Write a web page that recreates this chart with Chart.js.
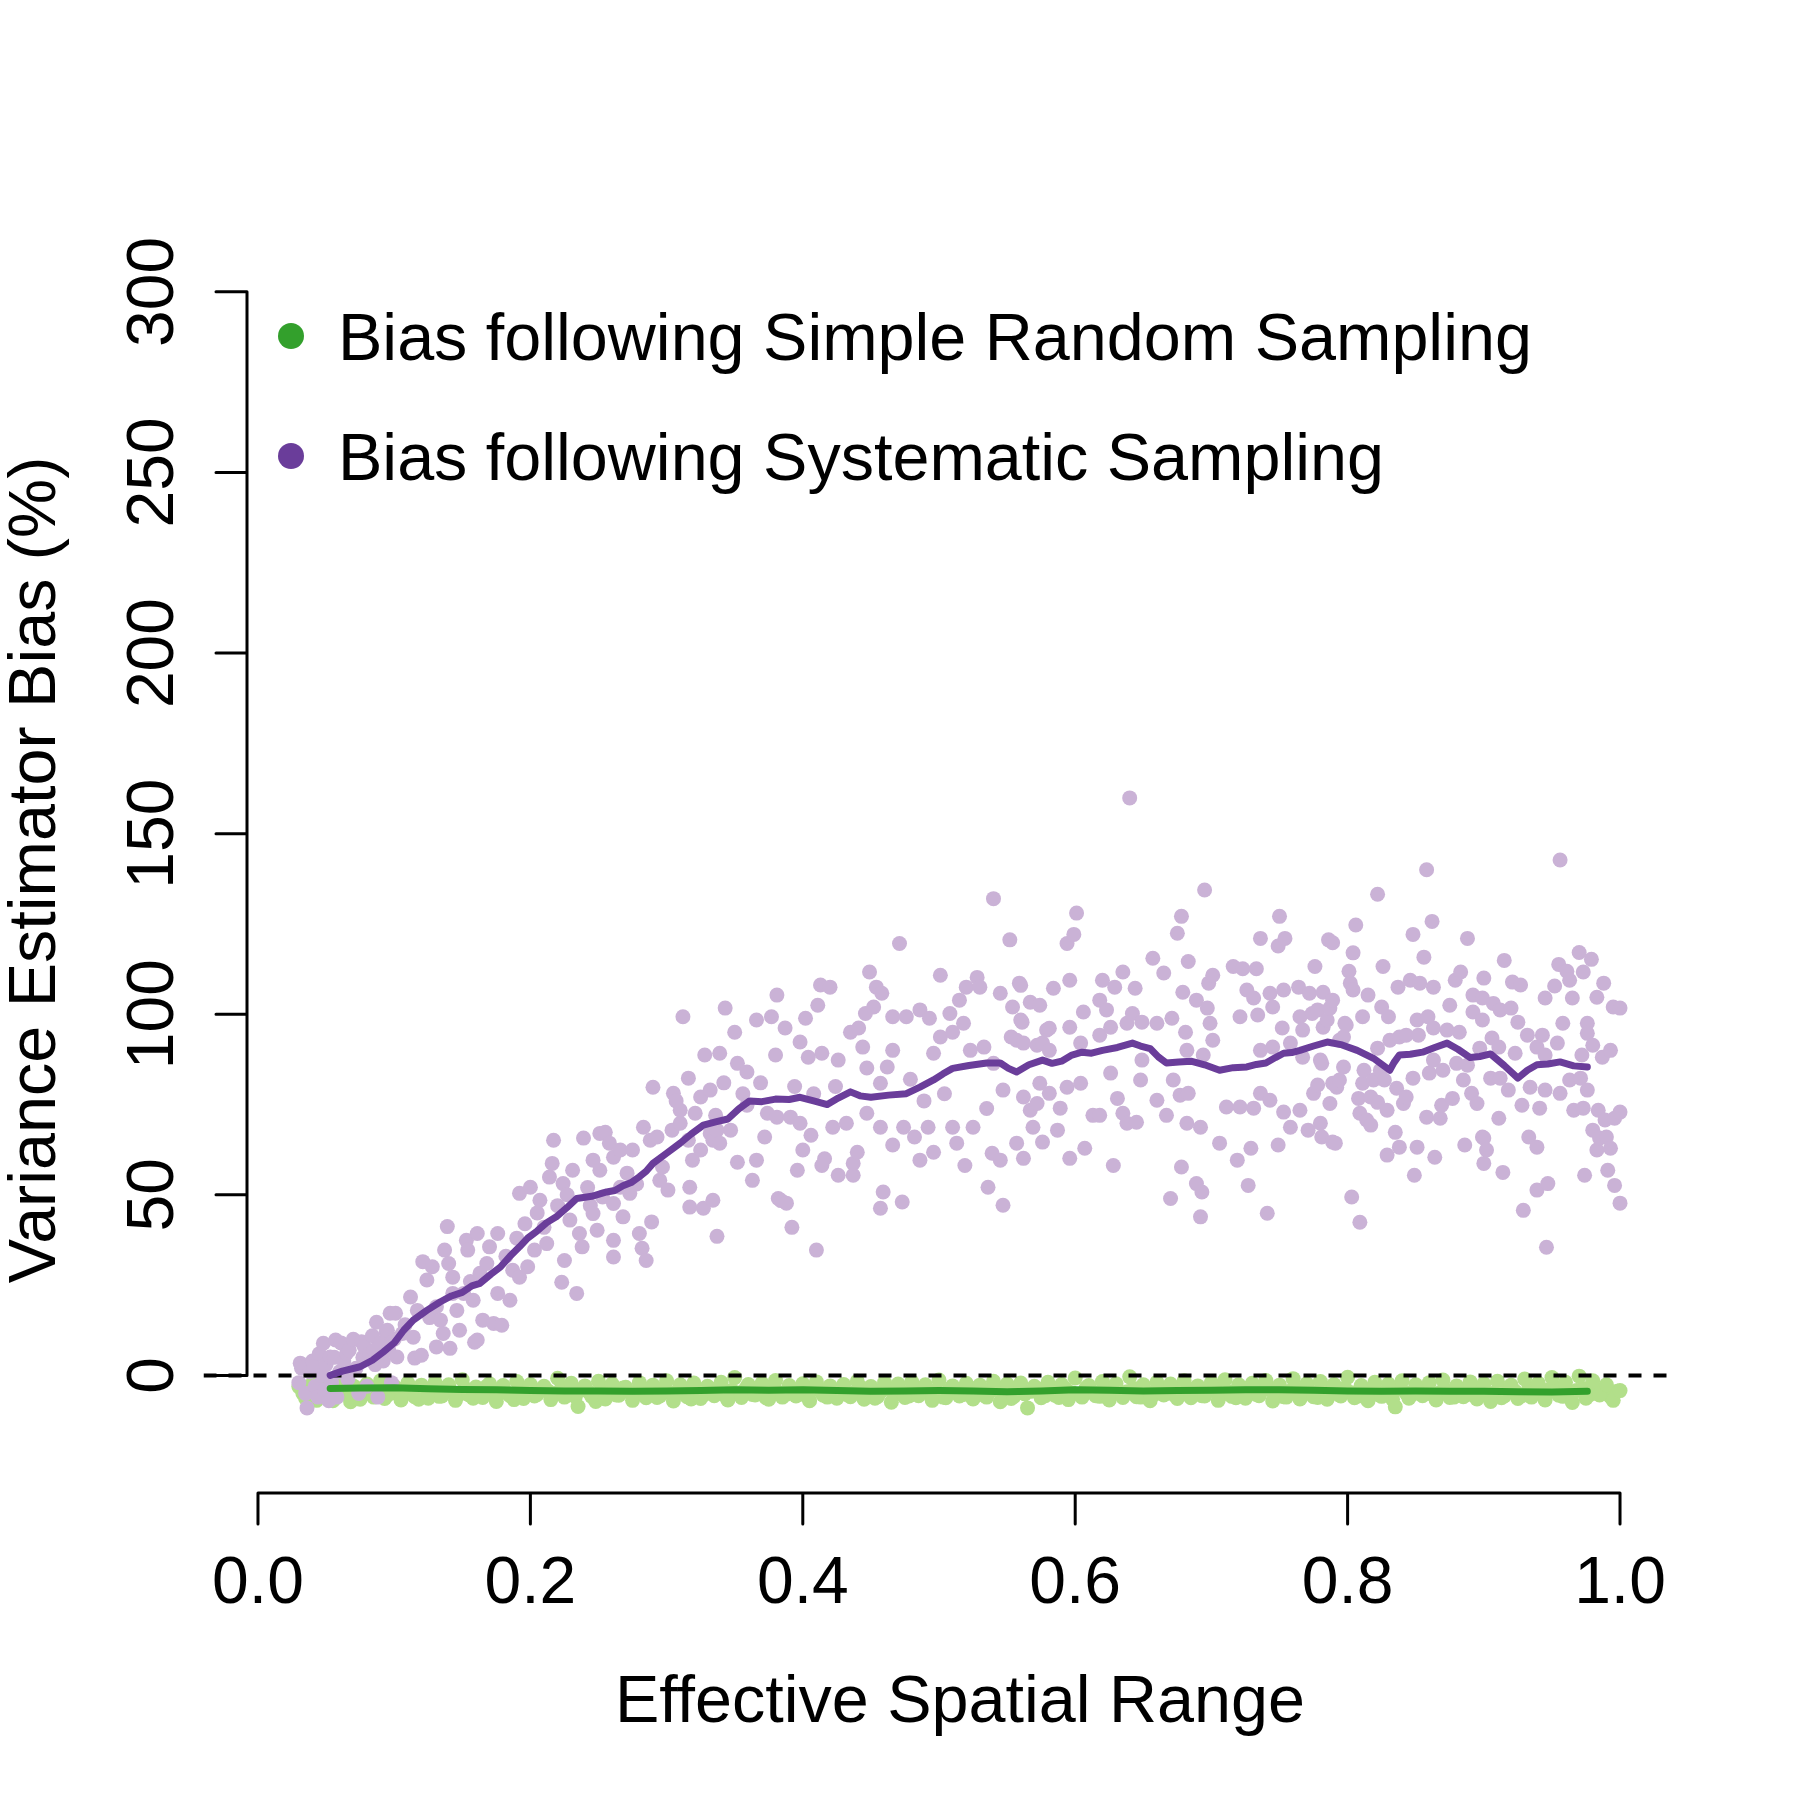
<!DOCTYPE html>
<html>
<head>
<meta charset="utf-8">
<script src="https://cdn.jsdelivr.net/npm/chart.js@4.4.0/dist/chart.umd.min.js"></script>
<style>
  html, body { margin: 0; background: #fff; }
</style>
</head>
<body>
<canvas id="chart" width="1800" height="1800"></canvas>
<script>
// --- data ---
const xTicks = [0, 0.2, 0.4, 0.6, 0.8, 1.0];
const xTickLabels = ["0.0", "0.2", "0.4", "0.6", "0.8", "1.0"];
const yTicks = [0, 50, 100, 150, 200, 250, 300];
const yTickLabels = ["0", "50", "100", "150", "200", "250", "300"];
const xLimits = [-0.04, 1.04];
const yLimits = [-44.6, 313.25];
const seriesNames = ["Bias following Simple Random Sampling", "Bias following Systematic Sampling"];

// systematic sampling: individual estimates (range, bias %)
const sysPoints = [
  [0.030,-2],[0.031,3.4],[0.032,2],[0.035,-5],[0.036,-9],[0.038,1],[0.040,4],[0.041,2.3],[0.042,-3],[0.044,-6],
  [0.045,6],[0.047,0],[0.048,8.9],[0.049,-4],[0.050,3],[0.052,-7],[0.053,5.1],[0.054,-2],[0.056,5],[0.057,9.8],
  [0.058,-6],[0.060,1],[0.061,9],[0.063,4],[0.065,6.1],[0.066,-1],[0.067,7],[0.070,10],[0.072,2],[0.074,-5],
  [0.076,9.3],[0.077,5],[0.078,8],[0.080,-3],[0.082,6],[0.084,11],[0.085,7],[0.086,3],[0.087,14.7],[0.088,-6],
  [0.090,9],[0.092,4],[0.094,12],[0.095,12.5],[0.096,7],[0.097,17.2],[0.098,-2],[0.100,10],[0.101,17.2],[0.102,5.1],
  [0.106,11.6],[0.108,14],[0.112,21.7],[0.114,10.6],[0.115,4.8],[0.117,18],[0.120,5.6],[0.121,31.5],[0.124,26.4],[0.126,16],
  [0.128,30.1],[0.131,19],[0.131,7.9],[0.134,15.3],[0.136,11.6],[0.137,34.7],[0.139,41.2],[0.140,31],[0.141,7.5],[0.143,27.2],
  [0.143,22.7],[0.146,18],[0.148,12.5],[0.151,22.7],[0.153,37.4],[0.154,34.7],[0.156,26],[0.158,20.8],[0.159,9.2],[0.161,9.8],
  [0.161,39.3],[0.163,28.3],[0.165,15.3],[0.168,31],[0.170,35.6],[0.173,14.4],[0.176,39.3],[0.176,22.7],[0.179,13.9],[0.182,33],
  [0.185,20.8],[0.187,29.1],[0.190,38],[0.192,27.2],[0.192,50.4],[0.196,42],[0.198,30.1],[0.200,52.1],[0.203,34.7],[0.205,45],
  [0.207,48.5],[0.210,41],[0.212,36.5],[0.214,54.9],[0.216,58.7],[0.217,65.1],[0.220,47],[0.223,25.8],[0.224,53.1],[0.225,31.8],
  [0.227,50],[0.229,43],[0.231,56.8],[0.234,22.7],[0.236,39.3],[0.238,35.6],[0.239,65.7],[0.242,52],[0.244,47],[0.246,59.6],
  [0.246,44.8],[0.249,40.2],[0.251,56.8],[0.251,67],[0.253,49.4],[0.255,67.3],[0.258,64.3],[0.261,47.6],[0.261,37.4],[0.261,32.8],
  [0.261,60.4],[0.266,52.1],[0.266,62.4],[0.268,43.9],[0.271,56],[0.273,50.4],[0.275,62.4],[0.278,53],[0.280,39.3],[0.282,35.2],
  [0.283,68.7],[0.285,31.8],[0.288,65.1],[0.289,42.5],[0.290,79.8],[0.293,66],[0.295,54],[0.297,57.7],[0.301,51.3],[0.304,67.9],
  [0.305,78.1],[0.307,76],[0.310,73.4],[0.310,69.8],[0.312,99.3],[0.316,82.3],[0.316,65.1],[0.317,46.6],[0.317,52.1],[0.319,59.6],
  [0.321,72.6],[0.325,62.4],[0.325,77.1],[0.327,46.3],[0.328,88.7],[0.332,79],[0.332,67],[0.334,48.5],[0.334,65.1],[0.336,72],
  [0.337,67.9],[0.337,38.5],[0.339,89.2],[0.339,64.3],[0.342,81],[0.343,101.7],[0.347,67.9],[0.350,95],[0.352,86.4],[0.352,59],
  [0.356,78],[0.359,84],[0.359,74.8],[0.363,54],[0.366,98.4],[0.366,59.6],[0.369,81],[0.372,66],[0.374,72.6],[0.377,99.3],
  [0.380,88.7],[0.381,105.3],[0.381,71.5],[0.382,49],[0.384,48.4],[0.387,96.2],[0.388,47.7],[0.391,71.5],[0.392,41],[0.394,80],
  [0.396,56.8],[0.398,92.3],[0.398,69.8],[0.400,62.4],[0.402,98.9],[0.404,88.1],[0.406,66.5],[0.408,78],[0.410,34.7],[0.411,102.5],
  [0.413,108.1],[0.414,89.2],[0.414,58.1],[0.416,60],[0.420,107.5],[0.422,68.7],[0.424,80],[0.426,87.3],[0.426,55.4],[0.432,69.8],
  [0.435,95],[0.437,55.4],[0.437,58.7],[0.440,61.8],[0.441,96.2],[0.444,90.9],[0.446,100.2],[0.447,85.1],[0.447,72.6],[0.449,111.7],
  [0.452,102],[0.454,107.5],[0.457,80.9],[0.457,68.7],[0.457,46.3],[0.458,105.8],[0.459,50.8],[0.462,85.4],[0.466,99.3],[0.466,90],
  [0.466,63.8],[0.471,119.6],[0.473,48],[0.474,68.7],[0.476,99.3],[0.479,82],[0.482,66],[0.486,101.2],[0.486,59.6],[0.489,76],
  [0.492,68.7],[0.493,98.9],[0.496,89.2],[0.496,61.8],[0.501,110.8],[0.501,93.7],[0.504,78],[0.508,100.2],[0.510,95],[0.510,68.7],
  [0.513,64.3],[0.515,103.9],[0.518,97.5],[0.519,58.1],[0.520,107.5],[0.523,90],[0.525,68.7],[0.528,110.2],[0.530,107.5],[0.533,90.9],
  [0.535,73.9],[0.536,52.1],[0.539,61.5],[0.540,132],[0.540,86.4],[0.545,105.8],[0.545,59.6],[0.547,47.1],[0.547,79],[0.552,120.6],
  [0.553,93.7],[0.554,102],[0.557,92.8],[0.557,64.3],[0.559,108.6],[0.560,108],[0.560,98.4],[0.561,97.8],[0.562,92],[0.562,60.1],
  [0.562,77.1],[0.567,103.3],[0.567,73.4],[0.569,68.7],[0.572,91.4],[0.572,75.3],[0.574,102.5],[0.574,80.9],[0.576,92],[0.576,64.6],
  [0.579,95.6],[0.581,96.1],[0.581,90],[0.581,78.1],[0.584,107.2],[0.587,67.9],[0.589,74],[0.594,119.6],[0.594,79.8],[0.596,109.4],
  [0.596,96.4],[0.596,60.1],[0.599,122.1],[0.601,128],[0.604,92],[0.604,80.9],[0.606,100.6],[0.607,62.9],[0.613,72],[0.618,103.9],
  [0.618,94.2],[0.618,72],[0.620,109.4],[0.623,101.2],[0.626,96.4],[0.626,83.7],[0.628,58.1],[0.629,107.5],[0.631,76.7],[0.635,111.7],
  [0.635,72.6],[0.638,97.5],[0.638,69.8],[0.640,159.9],[0.642,100.2],[0.644,107.2],[0.645,70.1],[0.648,81.8],[0.649,97.8],[0.649,87.3],
  [0.657,115.5],[0.660,97.5],[0.660,76.2],[0.665,111.4],[0.667,72],[0.670,49],[0.671,98.9],[0.672,81.8],[0.675,122.4],[0.677,77.6],
  [0.678,127.1],[0.678,57.7],[0.679,106.1],[0.681,95],[0.682,90],[0.682,69.8],[0.683,114.6],[0.683,78.1],[0.689,103.9],[0.689,53.1],
  [0.692,68.7],[0.692,43.9],[0.693,50.8],[0.694,88.7],[0.695,134.4],[0.697,101.7],[0.698,108.6],[0.699,97.5],[0.701,110.8],[0.701,92.8],
  [0.706,64.3],[0.711,74.3],[0.716,113.2],[0.719,59.6],[0.721,99.3],[0.721,74.3],[0.723,112.6],[0.726,106.7],[0.727,52.6],[0.729,62.9],
  [0.731,104.5],[0.731,74],[0.733,112.6],[0.734,99.8],[0.736,121],[0.736,90],[0.736,78.1],[0.741,44.9],[0.743,105.8],[0.743,76.2],
  [0.745,102],[0.745,90.9],[0.749,118.9],[0.749,63.8],[0.750,127.1],[0.752,96.2],[0.753,106.7],[0.753,72.9],[0.754,121],[0.758,92],
  [0.758,68.7],[0.764,107.5],[0.765,99.3],[0.765,73.4],[0.767,95.6],[0.767,88.1],[0.771,67.9],[0.772,105.8],[0.774,100.2],[0.775,78.1],
  [0.776,113.2],[0.778,101.2],[0.778,80.4],[0.780,87.3],[0.780,69.8],[0.781,86.4],[0.781,66],[0.782,106.1],[0.782,96.4],[0.785,98.4],
  [0.786,120.6],[0.787,101.7],[0.787,75.3],[0.789,119.8],[0.789,103.9],[0.789,80.9],[0.789,64.6],[0.791,64.3],[0.792,79.8],[0.794,92.8],
  [0.794,81.8],[0.797,93.7],[0.797,85.4],[0.798,97.5],[0.799,97],[0.801,111.9],[0.802,108.6],[0.803,49.4],[0.804,117],[0.804,106.7],
  [0.806,124.7],[0.808,76.7],[0.809,72.6],[0.809,42.4],[0.811,99.3],[0.811,80.9],[0.812,84.5],[0.814,70.7],[0.815,105.3],[0.817,77.1],
  [0.817,69.3],[0.819,81.8],[0.822,133.2],[0.822,90.6],[0.822,75.6],[0.824,84.5],[0.825,102],[0.826,113.2],[0.827,81.8],[0.829,73.4],
  [0.829,61],[0.830,99.3],[0.831,92.8],[0.835,67.3],[0.836,79.5],[0.837,107.5],[0.838,93.7],[0.838,63.2],[0.841,75.3],[0.843,94.2],
  [0.843,77.1],[0.846,109.4],[0.848,122.1],[0.848,82.3],[0.849,55.4],[0.851,98.4],[0.851,63.2],[0.852,94.2],[0.853,108.6],[0.856,115.8],
  [0.858,140],[0.858,71.5],[0.859,99.3],[0.860,83.7],[0.862,125.7],[0.863,107.5],[0.863,96.2],[0.863,87.3],[0.864,60.4],[0.868,71.2],
  [0.869,74.8],[0.870,84.5],[0.873,95.6],[0.875,102.5],[0.877,76.7],[0.879,109.4],[0.880,86.4],[0.882,95],[0.883,111.7],[0.885,81.8],
  [0.886,63.8],[0.888,121],[0.888,85.9],[0.891,78.1],[0.892,105.3],[0.892,100.6],[0.895,75.3],[0.897,90.6],[0.899,104.5],[0.899,98.4],
  [0.899,66],[0.900,110],[0.900,65.7],[0.900,58.7],[0.902,62.4],[0.905,82.3],[0.906,93.4],[0.907,103],[0.911,90.9],[0.911,71.2],
  [0.912,101.2],[0.912,82.3],[0.914,56.2],[0.915,114.9],[0.918,79],[0.920,101.7],[0.921,108.9],[0.923,89.2],[0.925,97.8],[0.927,108.1],
  [0.928,74.8],[0.929,45.7],[0.932,94.2],[0.933,66],[0.934,79.8],[0.939,90.9],[0.939,63.2],[0.939,51.3],[0.941,74],[0.943,94.2],
  [0.945,104.5],[0.945,88.7],[0.945,79],[0.946,35.5],[0.947,53.1],[0.952,107.8],[0.954,92],[0.955,113.8],[0.956,142.7],[0.956,78.1],
  [0.958,97.5],[0.961,111.9],[0.963,109.4],[0.963,81.8],[0.965,104.5],[0.966,73.4],[0.970,117.1],[0.971,82.3],[0.972,88.7],[0.973,111.7],
  [0.973,74],[0.974,55.4],[0.976,97.5],[0.976,94.7],[0.976,79],[0.979,115.2],[0.980,91.4],[0.980,67.9],[0.983,104.7],[0.983,62.4],
  [0.984,73.4],[0.985,65.7],[0.987,88.1],[0.988,108.6],[0.989,70.7],[0.990,66],[0.991,56.8],[0.993,90],[0.993,62.9],[0.995,102],
  [0.996,71.2],[0.996,52.6],[1.000,101.7],[1.000,72.9],[1.000,47.7]
];

// systematic sampling: running mean
const sysTrend = [
  [0.053,0],[0.062,1.2],[0.075,2.4],[0.084,4.2],[0.092,6.5],[0.100,9],[0.107,12.5],[0.114,15.3],[0.124,18],[0.134,20.4],
  [0.142,22],[0.150,23],[0.157,24.8],[0.163,25.5],[0.171,28],[0.178,30],[0.185,33],[0.192,35.6],[0.198,38],[0.205,40],
  [0.212,42.3],[0.219,43.9],[0.227,46.5],[0.234,49],[0.245,49.6],[0.256,50.8],[0.262,51.2],[0.268,52.5],[0.274,53.4],[0.280,55],
  [0.285,56.5],[0.290,58.7],[0.300,61.5],[0.310,64.3],[0.318,66.8],[0.327,69.3],[0.336,70.2],[0.345,71],[0.353,73.8],[0.361,76],
  [0.370,75.8],[0.380,76.5],[0.390,76.4],[0.398,77],[0.408,76],[0.418,75],[0.426,76.8],[0.435,78.5],[0.442,77.4],[0.450,77],
  [0.463,77.6],[0.476,78],[0.486,79.8],[0.496,81.8],[0.503,83.5],[0.510,85],[0.522,85.8],[0.535,86.5],[0.545,86.5],[0.551,85],
  [0.557,84],[0.566,86],[0.576,87.3],[0.583,86.4],[0.590,87],[0.597,88.6],[0.605,89.5],[0.612,89.2],[0.620,90],[0.631,90.8],
  [0.642,92],[0.648,91.2],[0.655,90.5],[0.661,88.2],[0.667,86.5],[0.676,86.8],[0.685,87],[0.695,86],[0.706,84.5],[0.716,85.2],
  [0.726,85.4],[0.733,86.1],[0.740,86.5],[0.747,88],[0.753,89.2],[0.759,89.4],[0.765,90],[0.775,91.2],[0.785,92.3],[0.796,91.5],
  [0.807,90],[0.819,87.8],[0.831,84.5],[0.834,86.6],[0.838,88.7],[0.846,88.9],[0.855,89.5],[0.864,90.8],[0.873,92],[0.881,90.3],
  [0.890,88],[0.897,88.3],[0.905,89],[0.915,85.8],[0.925,82.3],[0.932,84.5],[0.939,86],[0.947,86.2],[0.956,86.8],[0.966,85.7],
  [0.976,85.4]
];

// simple random sampling: individual estimates (two interleaved passes along the range)
const srsRange = [
  0.030,0.035,0.040,0.045,0.050,0.055,0.060,0.065,0.070,0.075,
  0.080,0.085,0.090,0.095,0.100,0.105,0.110,0.115,0.120,0.125,
  0.130,0.135,0.140,0.145,0.150,0.155,0.160,0.165,0.170,0.175,
  0.180,0.185,0.190,0.195,0.200,0.205,0.210,0.215,0.220,0.225,
  0.230,0.235,0.240,0.245,0.250,0.255,0.260,0.265,0.270,0.275,
  0.280,0.285,0.290,0.295,0.300,0.305,0.310,0.315,0.320,0.325,
  0.330,0.335,0.340,0.345,0.350,0.355,0.360,0.365,0.370,0.375,
  0.380,0.385,0.390,0.395,0.400,0.405,0.410,0.415,0.420,0.425,
  0.430,0.435,0.440,0.445,0.450,0.455,0.460,0.465,0.470,0.475,
  0.480,0.485,0.490,0.495,0.500,0.505,0.510,0.515,0.520,0.525,
  0.530,0.535,0.540,0.545,0.550,0.555,0.560,0.565,0.570,0.575,
  0.580,0.585,0.590,0.595,0.600,0.605,0.610,0.615,0.620,0.625,
  0.630,0.635,0.640,0.645,0.650,0.655,0.660,0.665,0.670,0.675,
  0.680,0.685,0.690,0.695,0.700,0.705,0.710,0.715,0.720,0.725,
  0.730,0.735,0.740,0.745,0.750,0.755,0.760,0.765,0.770,0.775,
  0.780,0.785,0.790,0.795,0.800,0.805,0.810,0.815,0.820,0.825,
  0.830,0.835,0.840,0.845,0.850,0.855,0.860,0.865,0.870,0.875,
  0.880,0.885,0.890,0.895,0.900,0.905,0.910,0.915,0.920,0.925,
  0.930,0.935,0.940,0.945,0.950,0.955,0.960,0.965,0.970,0.975,
  0.980,0.985,0.990,0.995,1.000
];
const srsBias = [
  -3.1,-6.4,-2.2,-5.8,-3.5,-7.0,-1.8,-5.2,-2.9,-6.6,
  -2.4,-6.0,-1.5,-5.5,-3.0,-6.8,-2.1,-5.9,-2.7,-6.3,
  -1.9,-5.7,-2.6,-6.9,-1.2,-5.4,-3.2,-6.1,-2.3,-7.2,
  -2.8,-5.6,-1.7,-6.4,-2.5,-5.3,-3.0,-6.7,-0.8,-6.0,
  -2.2,-8.6,-2.9,-5.8,-1.6,-6.5,-2.4,-5.5,-3.3,-6.9,
  -2.0,-6.2,-2.7,-5.7,-1.5,-7.1,-2.6,-5.9,-2.1,-6.4,
  -3.0,-5.6,-1.9,-6.8,-0.6,-6.1,-2.5,-5.4,-2.2,-6.6,
  -1.4,-6.0,-2.8,-5.7,-2.3,-7.0,-1.8,-5.5,-2.9,-6.3,
  -2.5,-5.9,-1.6,-6.6,-3.1,-5.8,-2.0,-7.4,-2.4,-6.1,
  -1.8,-5.6,-2.6,-6.9,-1.3,-6.2,-2.9,-5.7,-2.2,-6.5,
  -2.7,-6.0,-1.6,-7.3,-2.4,-5.8,-2.1,-9.0,-3.0,-6.2,
  -1.9,-5.5,-2.5,-6.7,-0.7,-6.0,-2.8,-5.6,-1.7,-6.8,
  -2.3,-6.1,-0.4,-5.9,-2.6,-7.0,-1.9,-5.4,-2.4,-6.4,
  -1.5,-6.2,-2.9,-5.7,-2.0,-6.9,-1.2,-5.8,-2.6,-6.3,
  -2.2,-5.6,-1.4,-7.1,-2.7,-6.0,-0.9,-6.5,-2.3,-5.9,
  -1.7,-6.6,-2.5,-5.7,-0.5,-6.2,-2.8,-7.0,-1.9,-5.8,
  -2.4,-8.7,-1.5,-6.3,-2.6,-5.6,-2.0,-6.8,-1.3,-6.1,
  -2.9,-5.9,-1.8,-6.5,-2.3,-7.2,-1.6,-5.7,-2.7,-6.4,
  -1.0,-6.0,-2.2,-6.8,-0.6,-5.5,-1.9,-7.5,-0.2,-6.3,
  -1.5,-5.4,-2.6,-6.9,-4.2
];
const srsRange2 = [
  0.033,0.038,0.043,0.048,0.053,0.058,0.063,0.068,0.073,0.078,
  0.083,0.088,0.093,0.098,0.103,0.108,0.113,0.118,0.123,0.128,
  0.133,0.138,0.143,0.148,0.153,0.158,0.163,0.168,0.173,0.178,
  0.183,0.188,0.193,0.198,0.203,0.208,0.213,0.218,0.223,0.228,
  0.233,0.238,0.243,0.248,0.253,0.258,0.263,0.268,0.273,0.278,
  0.283,0.288,0.293,0.298,0.303,0.308,0.313,0.318,0.323,0.328,
  0.333,0.338,0.343,0.348,0.353,0.358,0.363,0.368,0.373,0.378,
  0.383,0.388,0.393,0.398,0.403,0.408,0.413,0.418,0.423,0.428,
  0.433,0.438,0.443,0.448,0.453,0.458,0.463,0.468,0.473,0.478,
  0.483,0.488,0.493,0.498,0.503,0.508,0.513,0.518,0.523,0.528,
  0.533,0.538,0.543,0.548,0.553,0.558,0.563,0.568,0.573,0.578,
  0.583,0.588,0.593,0.598,0.603,0.608,0.613,0.618,0.623,0.628,
  0.633,0.638,0.643,0.648,0.653,0.658,0.663,0.668,0.673,0.678,
  0.683,0.688,0.693,0.698,0.703,0.708,0.713,0.718,0.723,0.728,
  0.733,0.738,0.743,0.748,0.753,0.758,0.763,0.768,0.773,0.778,
  0.783,0.788,0.793,0.798,0.803,0.808,0.813,0.818,0.823,0.828,
  0.833,0.838,0.843,0.848,0.853,0.858,0.863,0.868,0.873,0.878,
  0.883,0.888,0.893,0.898,0.903,0.908,0.913,0.918,0.923,0.928,
  0.933,0.938,0.943,0.948,0.953,0.958,0.963,0.968,0.973,0.978,
  0.983,0.988,0.993,0.998
];
const srsBias2 = [
  -5.0,-3.8,-6.9,-4.4,-5.6,-2.9,-4.8,-7.3,-3.6,-5.1,
  -4.6,-3.2,-6.4,-4.2,-5.3,-3.5,-4.9,-6.6,-3.9,-4.5,
  -5.8,-3.4,-4.7,-5.2,-3.8,-6.3,-4.4,-3.0,-5.5,-4.1,
  -4.9,-6.7,-3.6,-4.6,-5.7,-3.9,-4.3,-5.0,-3.3,-4.8,
  -5.9,-4.0,-4.6,-7.2,-3.7,-4.9,-5.4,-3.5,-4.7,-5.1,
  -3.9,-4.8,-6.1,-3.6,-5.0,-4.3,-4.7,-6.5,-3.8,-5.2,
  -4.5,-3.4,-5.6,-4.1,-4.9,-3.7,-5.3,-4.4,-6.2,-3.5,
  -4.8,-5.2,-3.9,-4.6,-5.8,-3.6,-4.4,-6.0,-4.1,-3.8,
  -5.4,-4.7,-3.5,-4.9,-6.3,-4.2,-3.7,-5.1,-4.6,-5.7,
  -3.6,-4.5,-5.0,-4.1,-6.0,-3.8,-4.7,-5.3,-3.5,-4.9,
  -5.5,-4.2,-3.9,-4.8,-6.4,-3.6,-5.1,-4.4,-3.8,-5.6,
  -4.3,-6.1,-3.7,-4.9,-5.2,-3.4,-4.6,-5.8,-4.1,-3.9,
  -5.0,-4.5,-3.6,-6.0,-4.7,-5.3,-3.8,-4.4,-5.5,-4.0,
  -3.7,-4.9,-5.6,-4.2,-3.9,-5.1,-4.6,-6.2,-3.5,-4.8,
  -5.3,-4.0,-3.6,-4.7,-5.9,-4.3,-3.8,-5.0,-4.5,-6.1,
  -3.9,-4.6,-5.2,-3.5,-4.8,-5.7,-4.1,-3.8,-5.4,-4.4,
  -6.6,-3.7,-4.9,-5.1,-4.0,-3.6,-5.5,-4.7,-4.2,-6.0,
  -3.8,-5.3,-4.5,-3.6,-5.0,-4.8,-6.2,-3.9,-4.4,-5.6,
  -3.5,-4.7,-5.1,-4.0,-3.3,-5.8,-4.6,-4.2,-3.6,-5.3,
  -4.9,-3.8,-5.9,-4.4
];

// simple random sampling: running mean
const srsTrend = [
  [0.053,-3.6],[0.075,-3.5],[0.100,-3.4],[0.125,-3.7],[0.150,-3.9],[0.175,-4.0],[0.200,-4.2],[0.225,-4.3],
  [0.250,-4.3],[0.275,-4.4],[0.300,-4.3],[0.325,-4.2],[0.350,-4.0],[0.375,-4.1],[0.400,-4.0],[0.425,-4.2],
  [0.450,-4.4],[0.475,-4.3],[0.500,-4.2],[0.525,-4.3],[0.550,-4.5],[0.575,-4.3],[0.600,-4.0],[0.625,-4.1],
  [0.650,-4.3],[0.675,-4.2],[0.700,-4.1],[0.725,-4.0],[0.750,-4.0],[0.775,-4.1],[0.800,-4.3],[0.825,-4.4],
  [0.850,-4.3],[0.875,-4.4],[0.900,-4.4],[0.925,-4.5],[0.950,-4.6],[0.976,-4.4]
];

// --- styling ---
const COLORS = {
  srsPoint: "#B2DF8A", srsLine: "#33A02C",
  sysPoint: "#CAB2D6", sysLine: "#6A3D9A"
};
const FONT = '"Liberation Sans", Arial, Helvetica, sans-serif';
const AXIS_GAP = 43.5;  // R draws the axes a little inside the plot box
const TICK_LEN = 31;
const DOT_R = 7.5;
const TREND_W = 7;

const toXY = pts => pts.map(p => ({ x: p[0], y: p[1] }));
const zipXY = (xs, ys) => xs.map((v, i) => ({ x: v, y: ys[i] }));

// draws R-style detached axes, titles and the legend
const rAxes = {
  id: "rAxes",
  afterDraw(chart) {
    const { ctx, chartArea, scales: { x, y } } = chart;
    const axisX = chartArea.left + AXIS_GAP;
    const axisY = chartArea.bottom - AXIS_GAP;
    ctx.save();
    ctx.strokeStyle = "#000";
    ctx.fillStyle = "#000";
    ctx.lineWidth = 3;
    ctx.lineCap = "round";

    // y axis
    ctx.beginPath();
    ctx.moveTo(axisX, y.getPixelForValue(yTicks[0]));
    ctx.lineTo(axisX, y.getPixelForValue(yTicks[yTicks.length - 1]));
    yTicks.forEach(v => {
      const py = y.getPixelForValue(v);
      ctx.moveTo(axisX, py);
      ctx.lineTo(axisX - TICK_LEN, py);
    });
    // x axis
    ctx.moveTo(x.getPixelForValue(xTicks[0]), axisY);
    ctx.lineTo(x.getPixelForValue(xTicks[xTicks.length - 1]), axisY);
    xTicks.forEach(v => {
      const px = x.getPixelForValue(v);
      ctx.moveTo(px, axisY);
      ctx.lineTo(px, axisY + TICK_LEN);
    });
    ctx.stroke();

    // tick labels
    ctx.font = "66px " + FONT;
    ctx.textAlign = "center";
    ctx.textBaseline = "alphabetic";
    xTicks.forEach((v, i) => {
      ctx.fillText(xTickLabels[i], x.getPixelForValue(v), 1603);
    });
    yTicks.forEach((v, i) => {
      ctx.save();
      ctx.translate(173, y.getPixelForValue(v));
      ctx.rotate(-Math.PI / 2);
      ctx.fillText(yTickLabels[i], 0, 0);
      ctx.restore();
    });

    // axis titles
    ctx.font = "66.5px " + FONT;
    ctx.fillText("Effective Spatial Range", 960, 1722);
    ctx.save();
    ctx.translate(55, 870);
    ctx.rotate(-Math.PI / 2);
    ctx.fillText("Variance Estimator Bias (%)", 0, 0);
    ctx.restore();

    // legend
    const legendColors = [COLORS.srsLine, COLORS.sysLine];
    ctx.textAlign = "left";
    ctx.textBaseline = "middle";
    seriesNames.forEach((name, i) => {
      const cy = 336 + i * 120;
      ctx.fillStyle = legendColors[i];
      ctx.beginPath();
      ctx.arc(291, cy, 13, 0, Math.PI * 2);
      ctx.fill();
      ctx.fillStyle = "#000";
      ctx.fillText(name, 338, cy + 6);
    });
    ctx.restore();
  }
};

const pointStyle = color => ({
  backgroundColor: color, borderColor: color, borderWidth: 0,
  pointRadius: DOT_R, radius: DOT_R, pointHoverRadius: DOT_R
});

new Chart(document.getElementById("chart"), {
  type: "scatter",
  data: {
    datasets: [
      {
        type: "line", data: toXY(sysTrend), borderColor: COLORS.sysLine, borderWidth: TREND_W,
        pointRadius: 0, radius: 0, borderJoinStyle: "round", borderCapStyle: "round", tension: 0, order: 0
      },
      {
        type: "line", data: toXY(srsTrend), borderColor: COLORS.srsLine, borderWidth: TREND_W,
        pointRadius: 0, radius: 0, borderJoinStyle: "round", borderCapStyle: "round", tension: 0, order: 0
      },
      {
        type: "line", data: [{ x: xLimits[0], y: 0 }, { x: xLimits[1], y: 0 }], borderColor: "#000",
        borderWidth: 4, borderDash: [13, 12], pointRadius: 0, radius: 0, order: 1
      },
      Object.assign({ data: toXY(sysPoints), order: 2 }, pointStyle(COLORS.sysPoint)),
      Object.assign({ data: zipXY(srsRange, srsBias), order: 3 }, pointStyle(COLORS.srsPoint)),
      Object.assign({ data: zipXY(srsRange2, srsBias2), order: 3 }, pointStyle(COLORS.srsPoint))
    ]
  },
  options: {
    responsive: false,
    animation: false,
    devicePixelRatio: 1,
    layout: { padding: { left: 203.5, right: 125.5, top: 244, bottom: 263.5 } },
    elements: {
      point: { radius: DOT_R, borderWidth: 0 },
      line: { borderWidth: TREND_W }
    },
    plugins: { legend: { display: false }, tooltip: { enabled: false } },
    scales: {
      x: { type: "linear", min: xLimits[0], max: xLimits[1], display: false },
      y: { type: "linear", min: yLimits[0], max: yLimits[1], display: false }
    }
  },
  plugins: [rAxes]
});
</script>
</body>
</html>
